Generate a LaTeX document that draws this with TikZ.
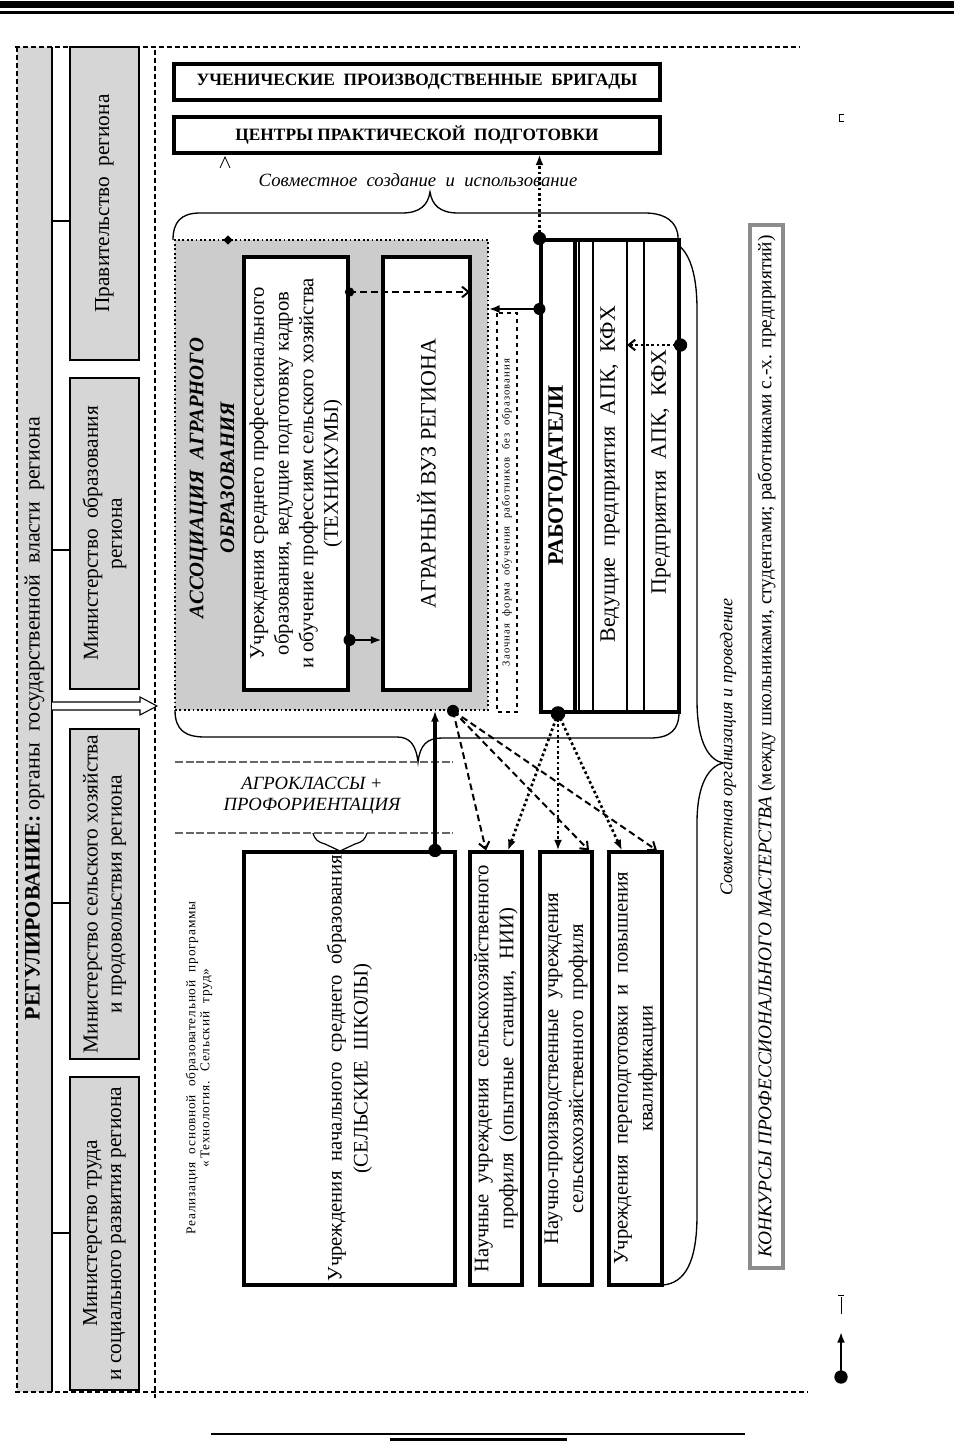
\documentclass[tikz,border=0pt]{standalone}
\usepackage{fontspec}
\setmainfont{Liberation Serif}
\usetikzlibrary{arrows.meta,calc,shapes.geometric}
\begin{document}
\begin{tikzpicture}[x=0.75pt,y=-0.75pt,
  vb/.style 2 args={rotate=90, minimum width=#1*0.75pt, minimum height=#2*0.75pt, inner sep=0pt, align=center},
  hb/.style 2 args={minimum width=#1*0.75pt, minimum height=#2*0.75pt, inner sep=0pt, align=center},
  thickbox/.style={draw, line width=2.3pt, fill=white},
  minbox/.style={draw, line width=0.8pt, fill=black!16},
  arrF/.style={-{Latex[length=8pt,width=6pt]}},
  arrO/.style={-{Straight Barb[length=5pt,width=8pt]}},
  dashA/.style={dash pattern=on 5pt off 3pt, line width=1.5pt},
  dotA/.style={dash pattern=on 2pt off 2pt, line width=2pt},
  frame/.style={dash pattern=on 4pt off 2pt, line width=1.3pt},
  brace/.style={line width=1pt},
  fA/.style={font={\fontsize{15.5}{18.75}\selectfont}},
  fM/.style={font={\fontsize{16}{18}\selectfont}}
]
\useasboundingbox (0,0) rectangle (954,1441);
% page rules
\fill (0,1) rectangle (954,8);
\draw[line width=1.6pt] (0,12.5) -- (954,12.5);
\draw[line width=1.2pt] (211,1434) -- (745,1434);
\draw[line width=2.4pt] (390,1440) -- (567,1440);

% outer frame
\fill[black!16] (17,47) rectangle (52,1392);
\draw[line width=0.8pt] (52,47) -- (52,1392);
\draw[frame] (15,47) -- (800,47);
\draw[frame] (15,1392) -- (808,1392);
\draw[frame] (17,47) -- (17,1392);
\draw[dash pattern=on 3.5pt off 2.5pt, line width=1pt] (155,50) -- (155,1398);

% regulation bar
\node[vb={1343}{35}, font={\fontsize{16.5}{19}\selectfont}] (reg) at (34.5,718.5) {\textbf{РЕГУЛИРОВАНИЕ:} органы \ государственной \ власти \ региона};

% ministries
\node[minbox, vb={313}{69}, fM] (m1) at (104.5,203.5) {Правительство \ региона};
\node[minbox, vb={311}{69}, fM] (m2) at (104.5,533.5) {Министерство \ образования\\региона};
\node[minbox, vb={330}{69}, fM] (m3) at (104.5,894) {Министерство сельского хозяйства\\и продовольствия региона};
\node[minbox, vb={313}{69}, fM] (m4) at (104.5,1233.5) {Министерство труда\\и социального развития региона};
\coordinate (l1) at (0,221);
\coordinate (l2) at (0,550);
\coordinate (l3) at (0,903);
\coordinate (l4) at (0,1233);
\draw[line width=0.8pt] (reg.south |- l1) -- (m1.north |- l1);
\draw[line width=0.8pt] (reg.south |- l2) -- (m2.north |- l2);
\draw[line width=0.8pt] (reg.south |- l3) -- (m3.north |- l3);
\draw[line width=0.8pt] (reg.south |- l4) -- (m4.north |- l4);
% hollow arrow
\draw[line width=0.8pt, fill=white] (52,702) -- (140,702) -- (140,697) -- (157,706) -- (140,715) -- (140,710) -- (52,710);

% top boxes
\node[thickbox, hb={486}{36}, font={\fontsize{13}{16}\selectfont\bfseries}] (ub) at (417,82) {УЧЕНИЧЕСКИЕ \ ПРОИЗВОДСТВЕННЫЕ \ БРИГАДЫ};
\node[thickbox, hb={486}{36}, font={\fontsize{13}{16}\selectfont\bfseries}] (cp) at (417,135) {ЦЕНТРЫ ПРАКТИЧЕСКОЙ \ ПОДГОТОВКИ};
\draw[line width=0.6pt] (220,168) -- (225,157) -- (230,168);
\node[font={\fontsize{14}{16}\selectfont\itshape}] (sovm) at (418,180) {Совместное \ создание \ и \ использование};

% braces
\draw[brace] (173,240) .. controls (173,222) and (181,213) .. (200,213) -- (402,213)
  .. controls (420,213) and (428,205) .. (430,192) .. controls (432,205) and (440,213) .. (458,213)
  -- (645,213) .. controls (665,213) and (678,222) .. (678,238);
\draw[brace] (668,240) .. controls (688,245) and (697,270) .. (697,310) -- (697,700)
  .. controls (697,745) and (710,760) .. (723,763) .. controls (710,766) and (697,782) .. (697,823)
  -- (697,1215) .. controls (697,1262) and (685,1283) .. (663,1285);
\draw[brace] (175,710) .. controls (175,730) and (185,737) .. (205,737) -- (397,737)
  .. controls (410,737) and (416,745) .. (418,762) .. controls (420,745) and (427,738) .. (442,738)
  -- (650,738) .. controls (670,738) and (679,730) .. (679,712);

% association
\node[draw, dotted, line width=1.3pt, fill=black!20, hb={313}{470}] (assoc) at (331.5,475) {};
\node[diamond, fill, inner sep=0pt, minimum size=7pt] (dia) at (228,240) {};
\node[rotate=90, align=center, inner sep=0pt, font={\fontsize{15.5}{23}\selectfont\bfseries\itshape}] (assoclbl) at (212,478) {АССОЦИАЦИЯ \ АГРАРНОГО\\ОБРАЗОВАНИЯ};
\node[thickbox, vb={433}{104}, font={\fontsize{15.5}{18.5}\selectfont}] (tech) at (296,473.5) {Учреждения среднего профессионального\\образования, ведущие подготовку кадров\\и обучение профессиям сельского хозяйства\\(ТЕХНИКУМЫ)};
\node[thickbox, vb={433}{87}, font={\fontsize{16.5}{19}\selectfont}] (vuz) at (426.5,473.5) {АГРАРНЫЙ ВУЗ РЕГИОНА};
\node[draw, dashed, line width=1pt, fill=white, vb={399}{20}, font={\fontsize{8}{9}\selectfont\addfontfeature{LetterSpace=10}}] (zaoch) at (507,512.5) {Заочная \ форма \ обучения \ работников \ без \ образования};

% employers
\node[draw, line width=2.3pt, fill=white, hb={138}{472}] (rab) at (610,476) {};
\draw[line width=2.3pt] (575,240) -- (575,712);
\draw[line width=0.8pt] (579,240) -- (579,712);
\draw[line width=0.8pt] (593,240) -- (593,712);
\draw[line width=0.8pt] (627,240) -- (627,712);
\draw[line width=0.8pt] (644,240) -- (644,712);
\node[rotate=90, inner sep=0pt, font={\fontsize{16.5}{19}\selectfont\bfseries}] (rabt) at (558,475) {РАБОТОДАТЕЛИ};
\node[rotate=90, inner sep=0pt, font={\fontsize{16.5}{19}\selectfont}] (ved) at (610,474) {Ведущие \ предприятия \ АПК, \ КФХ};
\node[rotate=90, inner sep=0pt, font={\fontsize{16.5}{19}\selectfont}] (pred) at (661,472) {Предприятия \ АПК, \ КФХ};

% lower part
\draw[dash pattern=on 6pt off 2pt, line width=0.8pt, black!60] (175,762) -- (453,762);
\draw[dash pattern=on 6pt off 2pt, line width=0.8pt, black!60] (175,833) -- (453,833);
\node[align=center, inner sep=0pt, font={\fontsize{14}{15.5}\selectfont\itshape}] (agro) at (312,796) {АГРОКЛАССЫ +\\ПРОФОРИЕНТАЦИЯ};
\draw[line width=0.9pt] (313,833) .. controls (315,840) and (318,842) .. (325,844) -- (340,851) -- (355,844) .. controls (362,842) and (365,840) .. (367,833);
\node[rotate=90, align=center, inner sep=0pt, font={\fontsize{10}{10.5}\selectfont\addfontfeature{LetterSpace=6}}] (realiz) at (199,1068) {Реализация \ основной \ образовательной \ программы\\«\,Технология. \ Сельский \ труд»};

\node[thickbox, vb={433}{211}, font={\fontsize{15.5}{19.5}\selectfont}] (school) at (349.5,1068.5) {Учреждения \ начального \ среднего \ образования\\(СЕЛЬСКИЕ \ ШКОЛЫ)};
\node[thickbox, vb={433}{52}, fA] (nauch) at (496,1068.5) {Научные \ учреждения \ сельскохозяйственного\\профиля \ (опытные \ станции, \ НИИ)};
\node[thickbox, vb={433}{52}, fA] (np) at (566,1068.5) {Научно-производственные \ учреждения\\сельскохозяйственного \ профиля};
\node[thickbox, vb={433}{53}, fA] (perep) at (635.5,1068.5) {Учреждения \ переподготовки \ и \ повышения\\квалификации};

% right side
\node[rotate=90, inner sep=0pt, font={\fontsize{13.5}{15}\selectfont\itshape}] (sovorg) at (728,747) {Совместная организация и проведение};
\node[draw=black!45, line width=2.6pt, fill=white, vb={1043}{33}, font={\fontsize{14.5}{16}\selectfont}] (konk) at (766.5,746.5) {\textit{КОНКУРСЫ ПРОФЕССИОНАЛЬНОГО МАСТЕРСТВА} (между школьниками, студентами; работниками с.-х. предприятий)};

% connectors
\coordinate (y292) at (0,292);
\coordinate (y640) at (0,640);
\coordinate (y309) at (0,309);
\coordinate (y345) at (0,345);
\coordinate (x435) at (435,0);
\coordinate (x453) at (453,0);
\coordinate (x558) at (558,0);
\coordinate (vedR) at (627,345);

\draw[dashA, arrO, shorten >=1pt] (tech.south |- y292) -- (vuz.south |- y292);
\fill (tech.south |- y292) circle[radius=3.5pt];
\draw[line width=1.5pt, arrF] (tech.south |- y640) -- (vuz.north |- y640);
\fill (tech.south |- y640) circle[radius=4.5pt];
\draw[line width=1.5pt, arrF] (rab.west |- y309) -- (assoc.east |- y309);
\fill (rab.west |- y309) circle[radius=4.5pt];
\draw[dotA, line width=1.5pt, arrO] (rab.east |- y345) -- (vedR);
\fill (rab.east |- y345) circle[radius=5pt];
\draw[dotA, arrF] (rab.north west) -- (cp.south -| rab.north west);
\fill (rab.north west) circle[radius=5pt];

\draw[line width=2.3pt, arrF] (school.east -| x435) -- (assoc.south -| x435);
\fill (school.east -| x435) circle[radius=5pt];

\coordinate (dsrc) at (assoc.south -| x453);
\draw[dashA, arrO] (dsrc) -- (nauch.east -| 486,0);
\draw[dashA, arrO] (dsrc) -- (np.east -| 589,0);
\draw[dashA, arrO] (dsrc) -- (perep.east -| 657,0);
\fill (dsrc) circle[radius=4.5pt];

\coordinate (psrc) at (rab.south -| x558);
\draw[dotA, arrF] (psrc) -- (nauch.east -| 508,0);
\draw[dotA, arrF] (psrc) -- (np.east -| 558,0);
\draw[dotA, arrF] (psrc) -- (perep.east -| 622,0);
\fill (psrc) circle[radius=5.5pt];

% legend fragments
\coordinate (lg1) at (841,1377);
\coordinate (lg2) at (841,1332);
\draw[line width=1.5pt, arrF] (lg1) -- (lg2);
\fill (lg1) circle[radius=5pt];
\draw[line width=0.7pt] (841,1297) -- (841,1314);
\draw[line width=0.7pt] (838,1295) -- (844,1295);
\draw[line width=0.7pt] (839,114) -- (839,121) -- (844,121);
\draw[line width=0.7pt] (839,114) -- (844,114);
\end{tikzpicture}
\end{document}
